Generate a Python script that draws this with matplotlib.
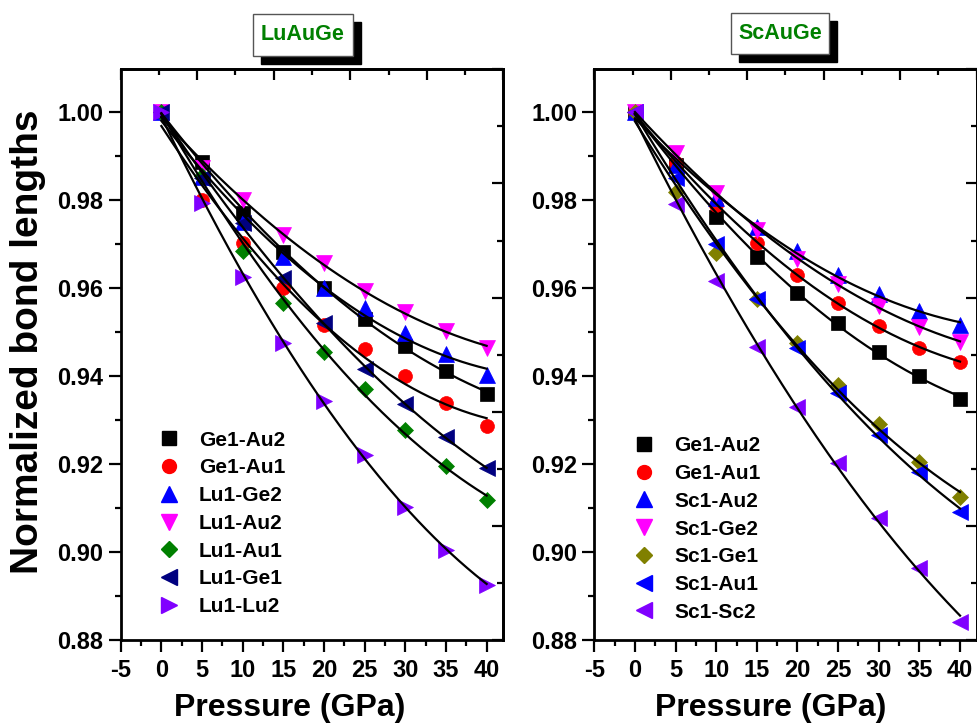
import numpy as np
import matplotlib
matplotlib.use('Agg')
import matplotlib.pyplot as plt
from matplotlib.patches import Rectangle
from matplotlib.lines import Line2D

plt.rcParams['font.family'] = ['Liberation Sans', 'DejaVu Sans']
plt.rcParams['font.weight'] = 'bold'
plt.rcParams['axes.unicode_minus'] = False

# ---------------- data ----------------
pressure = [0, 5, 10, 15, 20, 25, 30, 35, 40]

lu_labels = ['Ge1-Au2', 'Ge1-Au1', 'Lu1-Ge2', 'Lu1-Au2', 'Lu1-Au1', 'Lu1-Ge1', 'Lu1-Lu2']
lu_ge1_au2 = [1.0, 0.9887, 0.9770, 0.9682, 0.9600, 0.9530, 0.9469, 0.9412, 0.9358]
lu_ge1_au1 = [1.0, 0.9800, 0.9702, 0.9599, 0.9517, 0.9461, 0.9400, 0.9338, 0.9287]
lu_lu1_ge2 = [1.0, 0.9853, 0.9751, 0.9671, 0.9600, 0.9555, 0.9497, 0.9450, 0.9402]
lu_lu1_au2 = [1.0, 0.9873, 0.9800, 0.9720, 0.9656, 0.9594, 0.9546, 0.9503, 0.9463]
lu_lu1_au1 = [1.0, 0.9855, 0.9683, 0.9567, 0.9455, 0.9370, 0.9277, 0.9196, 0.9118]
lu_lu1_ge1 = [1.0, 0.9850, 0.9748, 0.9623, 0.9521, 0.9417, 0.9336, 0.9262, 0.9190]
lu_lu1_lu2 = [1.0, 0.9794, 0.9626, 0.9474, 0.9343, 0.9220, 0.9103, 0.9005, 0.8925]

sc_labels = ['Ge1-Au2', 'Ge1-Au1', 'Sc1-Au2', 'Sc1-Ge2', 'Sc1-Ge1', 'Sc1-Au1', 'Sc1-Sc2']
sc_ge1_au2 = [1.0, 0.9880, 0.9761, 0.9671, 0.9589, 0.9520, 0.9455, 0.9400, 0.9347]
sc_ge1_au1 = [1.0, 0.9883, 0.9789, 0.9702, 0.9630, 0.9567, 0.9514, 0.9464, 0.9431]
sc_sc1_au2 = [1.0, 0.9880, 0.9804, 0.9739, 0.9683, 0.9630, 0.9586, 0.9548, 0.9516]
sc_sc1_ge2 = [1.0, 0.9906, 0.9815, 0.9732, 0.9667, 0.9609, 0.9559, 0.9512, 0.9477]
sc_sc1_ge1 = [1.0, 0.9819, 0.9680, 0.9574, 0.9474, 0.9380, 0.9291, 0.9205, 0.9124]
sc_sc1_au1 = [1.0, 0.9849, 0.9700, 0.9574, 0.9463, 0.9362, 0.9266, 0.9181, 0.9090]
sc_sc1_sc2 = [1.0, 0.9791, 0.9616, 0.9467, 0.9329, 0.9202, 0.9077, 0.8963, 0.8842]

xticks = [-5, 0, 5, 10, 15, 20, 25, 30, 35, 40]
yticks = [0.88, 0.90, 0.92, 0.94, 0.96, 0.98, 1.00]

lu_series = [lu_ge1_au2, lu_ge1_au1, lu_lu1_ge2, lu_lu1_au2, lu_lu1_au1, lu_lu1_ge1, lu_lu1_lu2]
sc_series = [sc_ge1_au2, sc_ge1_au1, sc_sc1_au2, sc_sc1_ge2, sc_sc1_ge1, sc_sc1_au1, sc_sc1_sc2]

lu_styles = [('s', '#000000', 9.5), ('o', '#FF0000', 10), ('^', '#0000FF', 11.5),
             ('v', '#FF00FF', 11.5), ('D', '#008000', 8.5), ('<', '#000080', 11.5),
             ('>', '#8000FF', 11.5)]
sc_styles = [('s', '#000000', 9.5), ('o', '#FF0000', 10), ('^', '#0000FF', 11.5),
             ('v', '#FF00FF', 11.5), ('D', '#808000', 8.5), ('<', '#0000FF', 11.5),
             ('<', '#8000FF', 11.5)]

W, H = 978, 726
fig = plt.figure(figsize=(W / 100, H / 100), dpi=100)

def fx(px):
    return px / W

def fy(py):
    return 1 - py / H

XMIN, XMAX = -5, 42.05
YMIN, YMAX = 0.88, 1.0097

def setup(ax):
    ax.set_xlim(XMIN, XMAX)
    ax.set_ylim(YMIN, YMAX)
    ax.set_xticks(xticks)
    ax.set_xticks(np.arange(-2.5, 42, 5), minor=True)
    ax.set_yticks(yticks)
    ax.set_yticklabels(['%.2f' % v for v in yticks])
    ax.set_yticks(np.arange(0.89, 1.005, 0.02), minor=True)
    ax.tick_params(which='major', direction='out', length=8.4, width=1.6,
                   labelsize=17, pad=4, top=False, right=False)
    ax.tick_params(which='minor', direction='out', length=4.3, width=1.6,
                   top=False, right=False)
    ax.tick_params(axis='x', which='major', pad=5)
    for lab in ax.get_xticklabels() + ax.get_yticklabels():
        lab.set_fontweight('bold')
    for s in ax.spines.values():
        s.set_linewidth(2.0)
    # Origin-style top / right frame ticks (10 divisions, inward)
    sx = ax.secondary_xaxis('top', functions=(lambda x: (x - XMIN) / (XMAX - XMIN) * 10,
                                              lambda t: XMIN + t / 10 * (XMAX - XMIN)))
    sx.set_xticks([0, 2, 4, 6, 8, 10])
    sx.set_xticks([1, 3, 5, 7, 9], minor=True)
    sx.tick_params(which='major', direction='in', length=7.7, width=1.6, labeltop=False)
    sx.tick_params(which='minor', direction='in', length=4.0, width=1.6, labeltop=False)
    sx.spines['top'].set_linewidth(2.0)
    sy = ax.secondary_yaxis('right', functions=(lambda y: (y - YMIN) / (YMAX - YMIN) * 10,
                                                lambda t: YMIN + t / 10 * (YMAX - YMIN)))
    sy.set_yticks([0, 2, 4, 6, 8, 10])
    sy.set_yticks([1, 3, 5, 7, 9], minor=True)
    sy.tick_params(which='major', direction='in', length=7.7, width=1.6, labelright=False)
    sy.tick_params(which='minor', direction='in', length=4.0, width=1.6, labelright=False)
    sy.spines['right'].set_linewidth(2.0)

def draw_panel(ax, series, labels, styles, leg_anchor):
    xs = np.array(pressure, dtype=float)
    xfit = np.linspace(0, 40, 200)
    handles = []
    for ys, lab, (m, c, ms) in zip(series, labels, styles):
        ys = np.array(ys)
        ax.plot(xs, ys, linestyle='none', marker=m, color=c, markersize=ms,
                markeredgewidth=0.5, markeredgecolor=c, zorder=3)
        coef = np.polyfit(xs, ys, 2)
        ax.plot(xfit, np.polyval(coef, xfit), color='black', lw=1.6, zorder=4)
        handles.append(Line2D([], [], linestyle='none', marker=m, color=c,
                              markersize=ms, markeredgecolor=c, label=lab))
    ax.legend(handles=handles, loc='upper left', bbox_to_anchor=leg_anchor,
              frameon=False, prop={'weight': 'bold', 'size': 15},
              handlelength=1.0, handletextpad=0.95, labelspacing=0.42,
              borderpad=0, borderaxespad=0)

ax1 = fig.add_axes([fx(120.7), fy(640), fx(503.3) - fx(120.7), fy(69.3) - fy(640)])
ax2 = fig.add_axes([fx(594.3), fy(640), fx(976.7) - fx(594.3), fy(69.3) - fy(640)])
setup(ax1)
setup(ax2)
draw_panel(ax1, lu_series, lu_labels, lu_styles, (0.098, 0.367))
draw_panel(ax2, sc_series, sc_labels, sc_styles, (0.102, 0.357))

# title boxes with drop shadow
def title_box(x0, y0, x1, y1, text):
    off = 8
    fig.patches.append(Rectangle((fx(x0 + off), fy(y1 + off)), fx(x1 - x0), fy(y0) - fy(y1),
                                 transform=fig.transFigure, facecolor='black',
                                 edgecolor='black', zorder=1))
    fig.patches.append(Rectangle((fx(x0), fy(y1)), fx(x1 - x0), fy(y0) - fy(y1),
                                 transform=fig.transFigure, facecolor='white',
                                 edgecolor='#555555', lw=1.0, zorder=2))
    fig.text(fx((x0 + x1) / 2), fy((y0 + y1) / 2), text, color='#008000', fontsize=15.5,
             fontweight='bold', ha='center', va='center', zorder=3)

title_box(252.7, 14.3, 352.7, 55.7, 'LuAuGe')
title_box(731, 13.3, 829.3, 54.3, 'ScAuGe')

fig.text(fx(28), fy(342), 'Normalized bond lengths', rotation=90, fontsize=28,
         fontweight='bold', ha='center', va='center')
fig.text(fx(290), fy(708), 'Pressure (GPa)', fontsize=23, fontweight='bold',
         ha='center', va='center')
fig.text(fx(771), fy(708), 'Pressure (GPa)', fontsize=23, fontweight='bold',
         ha='center', va='center')

fig.savefig('out.png', dpi=100)
